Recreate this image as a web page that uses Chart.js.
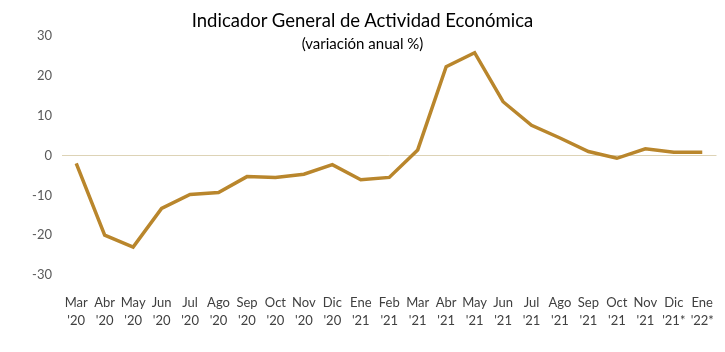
<!DOCTYPE html>
<html>
<head>
<meta charset="utf-8">
<script src="https://cdn.jsdelivr.net/npm/chart.js@4.4.1/dist/chart.umd.min.js"></script>
<style>
  html, body { margin: 0; padding: 0; background: #fff; }
  #wrap { position: relative; width: 725px; height: 352px; }
  #c { position: absolute; left: 0; top: 0; }
  .t { position: absolute; left: 0; width: 725px; text-align: center; font-family: Lato, "Open Sans", sans-serif; color: #000; white-space: nowrap; }
  #title { top: 9px; font-size: 18.5px; }
  #sub { top: 34px; font-size: 15px; }
</style>
</head>
<body>
<div id="wrap">
  <canvas id="c" width="725" height="352"></canvas>
  <div class="t" id="title">Indicador General de Actividad Económica</div>
  <div class="t" id="sub">(variación anual %)</div>
</div>
<script>
const months = ["Mar","Abr","May","Jun","Jul","Ago","Sep","Oct","Nov","Dic","Ene","Feb","Mar","Abr","May","Jun","Jul","Ago","Sep","Oct","Nov","Dic","Ene"];
const years = ["'20","'20","'20","'20","'20","'20","'20","'20","'20","'20","'21","'21","'21","'21","'21","'21","'21","'21","'21","'21","'21","'21*","'22*"];
const values = [-2.0, -20.0, -23.0, -13.3, -9.8, -9.3, -5.3, -5.5, -4.7, -2.3, -6.1, -5.5, 1.4, 22.3, 25.8, 13.5, 7.6, 4.4, 1.0, -0.7, 1.7, 0.8, 0.8];
const yTicks = [-30, -20, -10, 0, 10, 20, 30];

const labels = months.map((m, i) => [m, years[i]]);

new Chart(document.getElementById('c'), {
  type: 'line',
  data: {
    labels: labels,
    datasets: [{
      data: values,
      borderColor: '#b9862c',
      borderWidth: 3.5,
      pointRadius: 0,
      tension: 0,
      fill: false
    }]
  },
  options: {
    responsive: false,
    animation: false,
    devicePixelRatio: 1,
    layout: { padding: { top: 36, right: 5, left: 0, bottom: 0 } },
    plugins: { legend: { display: false }, tooltip: { enabled: false } },
    scales: {
      x: {
        offset: true,
        grid: { display: false },
        border: { display: false },
        ticks: {
          maxRotation: 0, autoSkip: false, padding: 11,
          color: '#404040',
          font: { family: 'Lato, "Open Sans", sans-serif', size: 13, lineHeight: 1.35 }
        },
        afterFit: (s) => { s.height = 77; }
      },
      y: {
        min: -30, max: 30,
        afterBuildTicks: (s) => { s.ticks = yTicks.map(v => ({ value: v })); },
        grid: {
          drawTicks: false,
          color: (ctx) => (ctx.tick && ctx.tick.value === 0) ? '#ddd3b6' : 'rgba(0,0,0,0)',
          lineWidth: 1
        },
        border: { display: false },
        ticks: {
          padding: 10,
          color: '#595959',
          font: { family: 'Lato, "Open Sans", sans-serif', size: 13 }
        },
        afterFit: (s) => { s.width = 62; }
      }
    }
  }
});
</script>
</body>
</html>
